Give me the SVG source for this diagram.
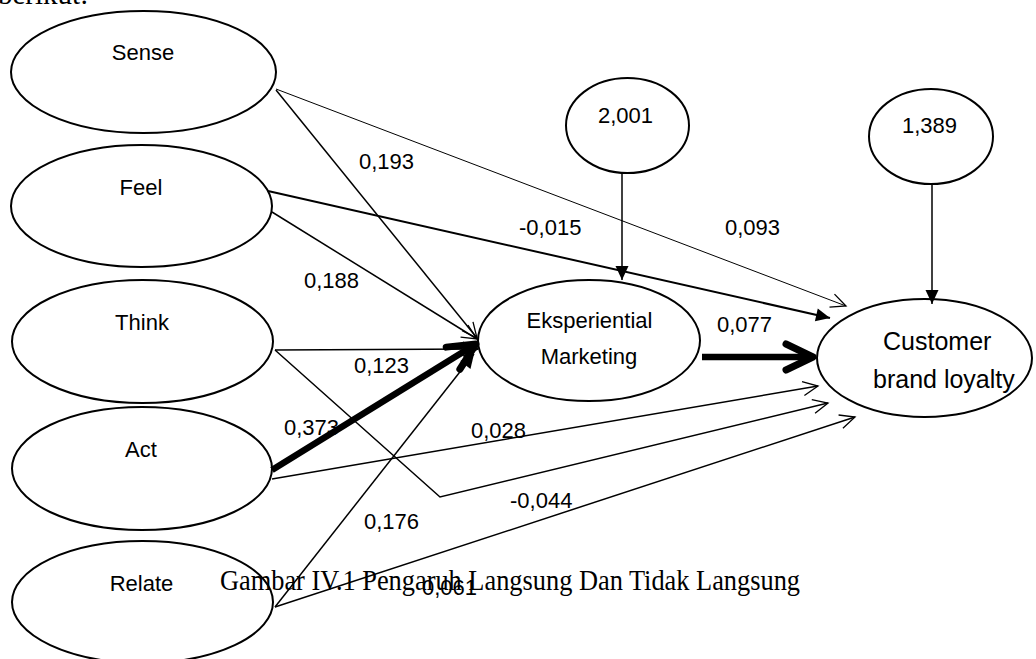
<svg xmlns="http://www.w3.org/2000/svg" width="1036" height="659" viewBox="0 0 1036 659">
<style>
.node{fill:#fff;stroke:#000;stroke-width:2}
.nt{font-family:"Liberation Sans",Arial,sans-serif;font-size:22px;fill:#000;text-anchor:middle}
.lb{font-family:"Liberation Sans",Arial,sans-serif;font-size:22px;fill:#000}
.cap{font-family:"Liberation Serif","Times New Roman",serif;font-size:29px;fill:#000}
.c{fill:none;stroke:#000;stroke-width:1.5}
.thin{stroke-width:1}
.med{stroke-width:2}
.thick{stroke-width:6.5}
</style>
<defs>
<marker id="open" markerUnits="userSpaceOnUse" orient="auto" refX="0" refY="0" markerWidth="20" markerHeight="20" overflow="visible"><path d="M-15,-7 L0,0 L-15,7" fill="none" stroke="#000" stroke-width="1.3"/></marker>
<marker id="fill" markerUnits="userSpaceOnUse" orient="auto" refX="0" refY="0" markerWidth="20" markerHeight="20" overflow="visible"><path d="M-14,-6.5 L0,0 L-14,6.5 Z" fill="#000"/></marker>
<marker id="chev" markerUnits="userSpaceOnUse" orient="auto" refX="0" refY="0" markerWidth="40" markerHeight="40" overflow="visible"><path d="M-27,-13 L0,0 L-27,13" fill="none" stroke="#000" stroke-width="7" stroke-linecap="round" stroke-linejoin="round"/></marker>
</defs>
<text class="cap" x="-2" y="4" font-size="26px">berikut:</text>
<g id="sense"><ellipse class="node" cx="143.5" cy="72" rx="132.5" ry="61"/><text class="nt" x="143" y="60">Sense</text></g>
<g id="feel"><ellipse class="node" cx="141.5" cy="206" rx="130.5" ry="61"/><text class="nt" x="141" y="195">Feel</text></g>
<g id="think"><ellipse class="node" cx="142.5" cy="341.5" rx="130.5" ry="61.5"/><text class="nt" x="142" y="330">Think</text></g>
<g id="act"><ellipse class="node" cx="142" cy="468.5" rx="130" ry="61.5"/><text class="nt" x="141" y="457">Act</text></g>
<g id="relate"><ellipse class="node" cx="142.5" cy="602" rx="130.5" ry="61"/><text class="nt" x="141.5" y="591">Relate</text></g>
<g id="e1"><ellipse class="node" cx="627.5" cy="125.5" rx="61.5" ry="47.5"/><text class="lb" x="598" y="123">2,001</text></g>
<g id="e2"><ellipse class="node" cx="931" cy="136.5" rx="62" ry="47.5"/><text class="lb" x="902" y="133">1,389</text></g>
<g id="em"><ellipse class="node" cx="589" cy="340.5" rx="111" ry="60.5"/><text class="nt" x="589.5" y="328" font-size="22px">Eksperiential</text><text class="nt" x="589" y="364" font-size="23px">Marketing</text></g>
<g id="cbl"><ellipse class="node" cx="924.5" cy="358" rx="107.5" ry="59"/><text class="nt" x="883" y="350" style="font-size:25px;text-anchor:start">Customer</text><text class="nt" x="873" y="388" style="font-size:25px;text-anchor:start">brand loyalty</text></g>
<g id="labels-under">
<text class="lb" x="284" y="435">0,373</text>
</g>
<g id="connectors">
<path class="c thin" d="M276,89 L846,306" marker-end="url(#open)"/>
<path class="c" d="M276,90 L477,338" marker-end="url(#open)"/>
<path class="c med" d="M268,191 L830,318" marker-end="url(#fill)"/>
<path class="c" d="M272,212 L477,339" marker-end="url(#open)"/>
<path class="c" d="M275,350 L478,349" marker-end="url(#open)"/>
<path class="c" d="M275,350 L440,497 L828,403" marker-end="url(#open)"/>
<path class="c" d="M272,479 L818,386" marker-end="url(#open)"/>
<path class="c" d="M275,607 L474,354" marker-end="url(#fill)"/>
<path class="c" d="M275,607 L855,417" marker-end="url(#open)"/>
<path class="c thick" d="M272,470 L476,344" marker-end="url(#chev)"/>
<path class="c thick" d="M702,357 L813,357" marker-end="url(#chev)"/>
<path class="c" d="M622,173 L622,280" marker-end="url(#fill)"/>
<path class="c" d="M932,184 L932,304" marker-end="url(#fill)"/>
</g>
<g id="labels">
<text class="lb" x="359" y="169">0,193</text>
<text class="lb" x="519" y="235">-0,015</text>
<text class="lb" x="725" y="235">0,093</text>
<text class="lb" x="304" y="288">0,188</text>
<text class="lb" x="354" y="373">0,123</text>
<text class="lb" x="717" y="332">0,077</text>
<text class="lb" x="471" y="438">0,028</text>
<text class="lb" x="364" y="529">0,176</text>
<text class="lb" x="510" y="508">-0,044</text>
<text class="lb" x="422" y="595">0,061</text>
</g>
<text class="cap" x="220" y="590" textLength="580" lengthAdjust="spacingAndGlyphs">Gambar IV.1 Pengaruh Langsung Dan Tidak Langsung</text>
</svg>
